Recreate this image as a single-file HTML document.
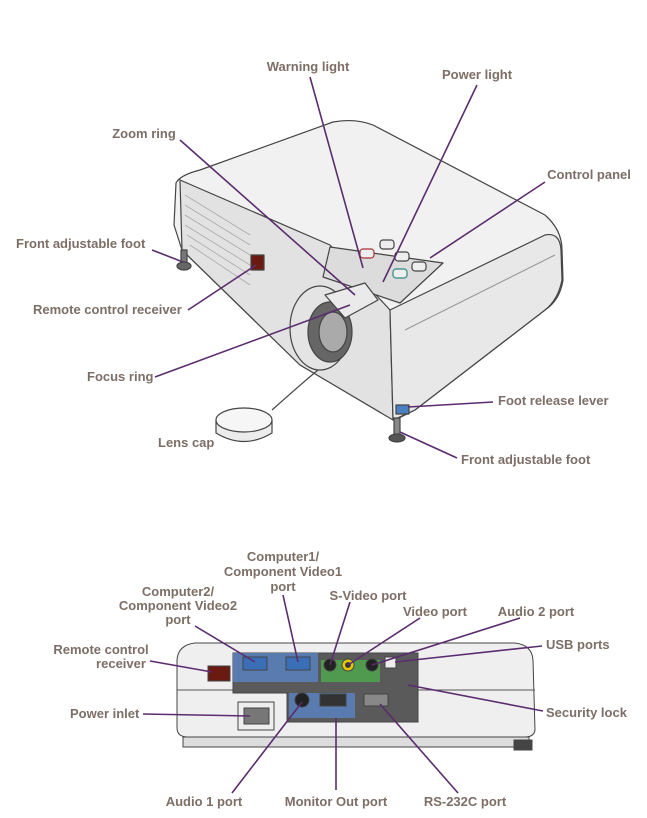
<!DOCTYPE html>
<html><head><meta charset="utf-8"><style>
html,body{margin:0;padding:0;background:#fff;}
svg{display:block;}
text{font-family:"Liberation Sans",Arial,sans-serif;font-weight:bold;font-size:13px;fill:#7d6e66;}
.l{stroke:#5b2c6f;stroke-width:1.6;fill:none;}
</style></head><body>
<svg width="647" height="818" viewBox="0 0 647 818" xmlns="http://www.w3.org/2000/svg">
<!-- TOP PROJECTOR -->
<g stroke="#444" stroke-width="1.2" stroke-linejoin="round">
  <!-- whole silhouette -->
  <path d="M176,183 Q180,175 200,170 L333,122 Q355,118 373,125 L545,215 Q562,230 562,250 L563,280 Q560,300 545,310 L415,410 L395,420 L300,365 L182,250 L174,225 Z" fill="#f1f1f1"/>
  <!-- front/left face -->
  <path d="M180,180 L330,245 L390,310 L393,420 L300,365 L182,250 Z" fill="#e2e2e2"/>
  <!-- right face -->
  <path d="M390,310 L545,235 Q560,232 561,250 L562,280 Q558,300 545,310 L415,410 L393,420 Z" fill="#e8e8e8"/>
  <path d="M405,330 L555,255" fill="none" stroke="#999"/>
  <!-- grille lines -->
  <g stroke="#aaa" stroke-width="0.8">
    <path d="M185,195 L250,235 M185,205 L250,245 M185,215 L250,255 M185,225 L250,265 M187,235 L250,275 M190,245 L250,285"/>
  </g>
  <!-- control panel -->
  <path d="M330,247 L443,263 L400,303 L323,277 Z" fill="#dcdcdc"/>
  <rect x="360" y="249" width="14" height="9" rx="3" fill="#eee" stroke="#a33"/>
  <rect x="380" y="240" width="14" height="9" rx="3" fill="#eee"/>
  <rect x="395" y="252" width="14" height="9" rx="3" fill="#eee"/>
  <rect x="393" y="269" width="14" height="9" rx="3" fill="#eee" stroke="#2a8a80"/>
  <rect x="412" y="262" width="14" height="9" rx="3" fill="#eee"/>
  <!-- remote receiver -->
  <rect x="251" y="255" width="13" height="15" fill="#6a1a10"/>
  <!-- lens -->
  <ellipse cx="320" cy="328" rx="30" ry="42" fill="#e4e4e4"/>
  <ellipse cx="330" cy="332" rx="22" ry="30" fill="#666"/>
  <ellipse cx="333" cy="332" rx="14" ry="20" fill="#aaa"/>
  <path d="M325,295 L365,283 L378,300 L345,318 Z" fill="#eaeaea"/>
  <!-- left foot -->
  <rect x="181" y="250" width="6" height="14" fill="#777"/>
  <ellipse cx="184" cy="266" rx="7" ry="4" fill="#666"/>
  <!-- foot release & front foot -->
  <rect x="396" y="405" width="13" height="9" fill="#4a7fc0"/>
  <rect x="394" y="418" width="6" height="18" fill="#888"/>
  <ellipse cx="397" cy="438" rx="8" ry="4" fill="#555"/>
  <!-- lens cap -->
  <path d="M272,410 Q300,385 318,370" fill="none"/>
  <path d="M216,420 L216,433 Q244,450 272,433 L272,420" fill="#ececec"/>
  <ellipse cx="244" cy="420" rx="28" ry="12" fill="#f6f6f6"/>
</g>
<!-- top labels -->
<text x="308" y="71" text-anchor="middle">Warning light</text>
<text x="477" y="79" text-anchor="middle">Power light</text>
<text x="144" y="138" text-anchor="middle">Zoom ring</text>
<text x="589" y="179" text-anchor="middle">Control panel</text>
<text x="16" y="248">Front adjustable foot</text>
<text x="33" y="314">Remote control receiver</text>
<text x="87" y="381">Focus ring</text>
<text x="158" y="447">Lens cap</text>
<text x="498" y="405">Foot release lever</text>
<text x="461" y="464">Front adjustable foot</text>
<path class="l" d="M310,77 L363,268 M477,85 L383,282 M180,140 L355,295 M545,182 L430,258 M152,250 L183,262 M188,310 L256,265 M155,377 L350,305 M493,402 L408,407 M457,458 L400,432"/>
<!-- BOTTOM PROJECTOR -->
<g stroke="#444" stroke-width="1">
  <path d="M177,660 Q178,645 195,643 L515,643 Q532,645 533,660 L535,730 Q534,737 525,737 L188,737 Q177,737 177,728 Z" fill="#efefef"/>
  <path d="M177,690 L535,690" stroke="#555"/>
  <rect x="183" y="737" width="346" height="10" fill="#ddd"/>
  <path d="M233,653 L418,653 L418,722 L287,722 L287,693 L233,693 Z" fill="#5a5a5a"/>
  <rect x="233" y="653" width="85" height="29" fill="#5a7bb0" stroke="none"/>
  <rect x="321" y="660" width="59" height="22" fill="#4f9a4f" stroke="none"/>
  <rect x="289" y="693" width="66" height="25" fill="#5a7bb0" stroke="none"/>
  <rect x="243" y="657" width="24" height="13" fill="#3a6fb8"/>
  <rect x="286" y="657" width="24" height="13" fill="#3a6fb8"/>
  <circle cx="330" cy="665" r="6" fill="#222"/>
  <circle cx="348" cy="665" r="6" fill="#e8c800"/><circle cx="348" cy="665" r="2.5" fill="#333"/>
  <circle cx="372" cy="665" r="6" fill="#222"/>
  <rect x="385" y="657" width="11" height="11" fill="#eee"/>
  <circle cx="302" cy="700" r="7" fill="#222"/>
  <rect x="320" y="694" width="26" height="12" fill="#333"/>
  <rect x="364" y="694" width="24" height="12" fill="#888"/>
  <rect x="208" y="666" width="22" height="15" fill="#6a1a10"/>
  <rect x="238" y="702" width="36" height="28" fill="#eee"/>
  <rect x="244" y="708" width="25" height="16" fill="#777"/>
  <rect x="514" y="740" width="18" height="10" fill="#444"/>
</g>
<!-- bottom labels -->
<text x="283" y="561" text-anchor="middle">Computer1/</text>
<text x="283" y="576" text-anchor="middle">Component Video1</text>
<text x="283" y="591" text-anchor="middle">port</text>
<text x="178" y="596" text-anchor="middle">Computer2/</text>
<text x="178" y="610" text-anchor="middle">Component Video2</text>
<text x="178" y="624" text-anchor="middle">port</text>
<text x="368" y="600" text-anchor="middle">S-Video port</text>
<text x="435" y="616" text-anchor="middle">Video port</text>
<text x="536" y="616" text-anchor="middle">Audio 2 port</text>
<text x="546" y="649">USB ports</text>
<text x="101" y="654" text-anchor="middle">Remote control</text>
<text x="121" y="668" text-anchor="middle">receiver</text>
<text x="70" y="718">Power inlet</text>
<text x="546" y="717">Security lock</text>
<text x="204" y="806" text-anchor="middle">Audio 1 port</text>
<text x="336" y="806" text-anchor="middle">Monitor Out port</text>
<text x="465" y="806" text-anchor="middle">RS-232C port</text>
<path class="l" d="M283,595 L298,662 M195,626 L255,662 M350,602 L330,665 M420,618 L348,665 M520,618 L372,665 M542,646 L395,662 M150,661 L212,672 M143,714 L250,716 M543,711 L408,685 M232,793 L302,702 M336,790 L336,718 M458,793 L380,704"/>
</svg>
</body></html>
